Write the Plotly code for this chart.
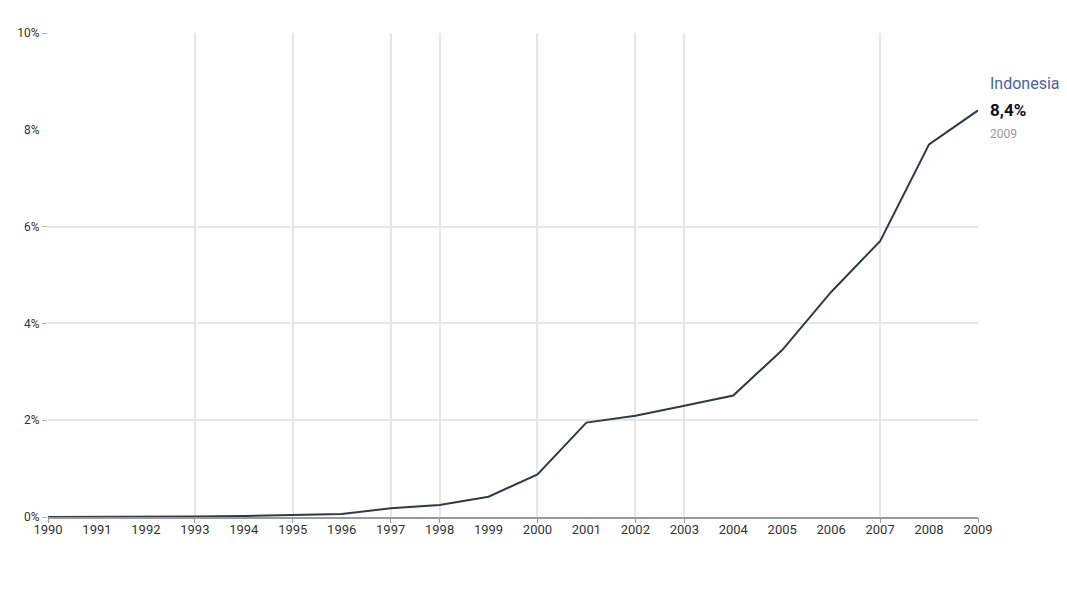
import plotly.graph_objects as go

years = list(range(1990, 2010))
values = [0.0, 0.0, 0.0, 0.01, 0.02, 0.04, 0.06, 0.18, 0.25, 0.42, 0.88,
          1.95, 2.09, 2.3, 2.51, 3.45, 4.65, 5.7, 7.7, 8.4]
grid_years = [1990, 1993, 1995, 1997, 1998, 2000, 2002, 2003, 2007, 2009]
y_ticks = [0, 2, 4, 6, 8, 10]
y_grid = [0, 2, 4, 6, 10]
series_name = "Indonesia"
last_label = "8,4%"
last_year = "2009"

FONT = "Liberation Sans Narrow, Arial Narrow, Roboto, sans-serif"

fig = go.Figure()
fig.add_trace(go.Scatter(x=years, y=values, mode="lines",
                         line=dict(color="#2e3a48", width=2),
                         showlegend=False, hoverinfo="x+y"))

fig.update_layout(
    width=1059, height=595,
    margin=dict(l=40, r=89, t=25, b=86, autoexpand=False),
    plot_bgcolor="white", paper_bgcolor="white",
    font=dict(family=FONT, size=13, color="#333333"),
    xaxis=dict(range=[1990, 2009], tickvals=years, ticktext=[str(y) for y in years],
               showgrid=False, zeroline=False, showline=True, linecolor="#9a9a9a",
               linewidth=1.5, ticks="", tickfont=dict(size=13, color="#333333")),
    xaxis2=dict(overlaying="x", matches="x", anchor="y", side="bottom",
                range=[1990, 2009], tickvals=grid_years, showticklabels=False,
                showgrid=True, gridcolor="#e6e6e6", gridwidth=1.5,
                ticks="outside", ticklen=5, tickcolor="#9a9a9a", zeroline=False),
    yaxis=dict(range=[0, 10], tickvals=y_ticks, ticktext=[f"{v}%" for v in y_ticks],
               showgrid=False, zeroline=False, showline=False, ticks="outside",
               ticklen=5, tickcolor="rgba(0,0,0,0)",
               tickfont=dict(size=12, color="#333333")),
    yaxis2=dict(overlaying="y", matches="y", anchor="x", side="left",
                range=[0, 10], tickvals=y_grid, showticklabels=False,
                showgrid=True, gridcolor="#e6e6e6", gridwidth=1.5,
                ticks="outside", ticklen=5, tickcolor="#b0b0b0", zeroline=False),
)

# invisible trace to activate overlay axes
fig.add_trace(go.Scatter(x=[years[0]], y=[values[0]], xaxis="x2", yaxis="y2",
                         mode="markers", marker=dict(opacity=0), showlegend=False,
                         hoverinfo="skip"))

fig.add_annotation(x=years[-1], y=values[-1], xref="x", yref="y",
                   text=series_name, showarrow=False, xanchor="left", yanchor="middle",
                   xshift=10, yshift=27, font=dict(family=FONT, size=16, color="#4a6496"))
fig.add_annotation(x=years[-1], y=values[-1], xref="x", yref="y",
                   text=f"<b>{last_label}</b>", showarrow=False, xanchor="left",
                   yanchor="middle", xshift=10, yshift=0,
                   font=dict(family=FONT, size=17, color="#111111"))
fig.add_annotation(x=years[-1], y=values[-1], xref="x", yref="y",
                   text=last_year, showarrow=False, xanchor="left", yanchor="middle",
                   xshift=10, yshift=-24, font=dict(family=FONT, size=12, color="#999999"))

fig.write_html("out.html")
